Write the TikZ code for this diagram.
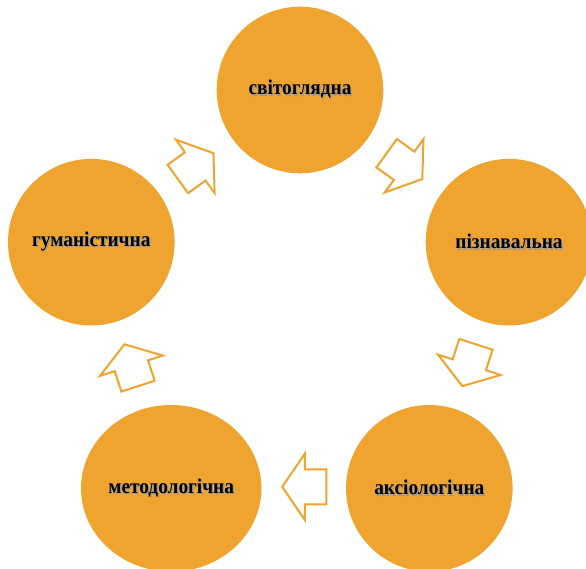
\documentclass[tikz,border=0pt]{standalone}
\usepackage{fontspec}
\setmainfont{Liberation Serif}
\newfontfamily\bubblefont[FakeStretch=0.92]{Liberation Serif}
\usetikzlibrary{shapes.geometric,calc}
\definecolor{cycorange}{RGB}{240,164,48}
\newcommand\shtext[1]{\rlap{\kern1.3pt\raisebox{-1.3pt}{\textcolor{black!40}{#1}}}#1}
\tikzset{
  bubble/.style={ellipse, fill=cycorange, draw=none, inner sep=0pt,
    minimum width=166.6pt, minimum height=166.6pt,
    label={[bubbletext]center:\shtext{#1}}},
  bubbletext/.style={font=\bubblefont\bfseries\fontsize{21}{25}\selectfont, text=black, inner sep=0pt},
  blockarrow/.pic={
    \draw[draw=cycorange, line width=2pt, fill=white, line join=miter]
      (-22,-17.5) -- (-0.5,-17.5) -- (-0.5,-33) -- (22,0) -- (-0.5,33)
      -- (-0.5,17.5) -- (-22,17.5) -- cycle;
  }
}
\begin{document}
\begin{tikzpicture}[x=1pt,y=-1pt]
\path[use as bounding box] (0,0) rectangle (586,569);
\clip (0,0) rectangle (586,569);
\node[bubble={світоглядна}] (top) at (300,90) {};
\node[bubble={пізнавальна}] (right) at (509,242.2) {};
\node[bubble={аксіологічна}] (br) at (429.3,488.3) {};
\node[bubble={методологічна}, minimum width=180.4pt] (bl) at (171.2,488.3) {};
\node[bubble={гуманістична}] (left) at (91.3,242.2) {};
\pic[rotate=36] (a1) at ($(left)!0.5!(top)$) {blockarrow};
\pic[rotate=-36] (a2) at ($(top)!0.5!(right)$) {blockarrow};
\pic[rotate=-108] (a3) at ($(right)!0.5!(br)$) {blockarrow};
\pic[rotate=180] (a4) at ($($(br)!0.5!(bl)$)+(4,-1.5)$) {blockarrow};
\pic[rotate=108] (a5) at ($(bl)!0.5!(left)$) {blockarrow};
\end{tikzpicture}
\end{document}
